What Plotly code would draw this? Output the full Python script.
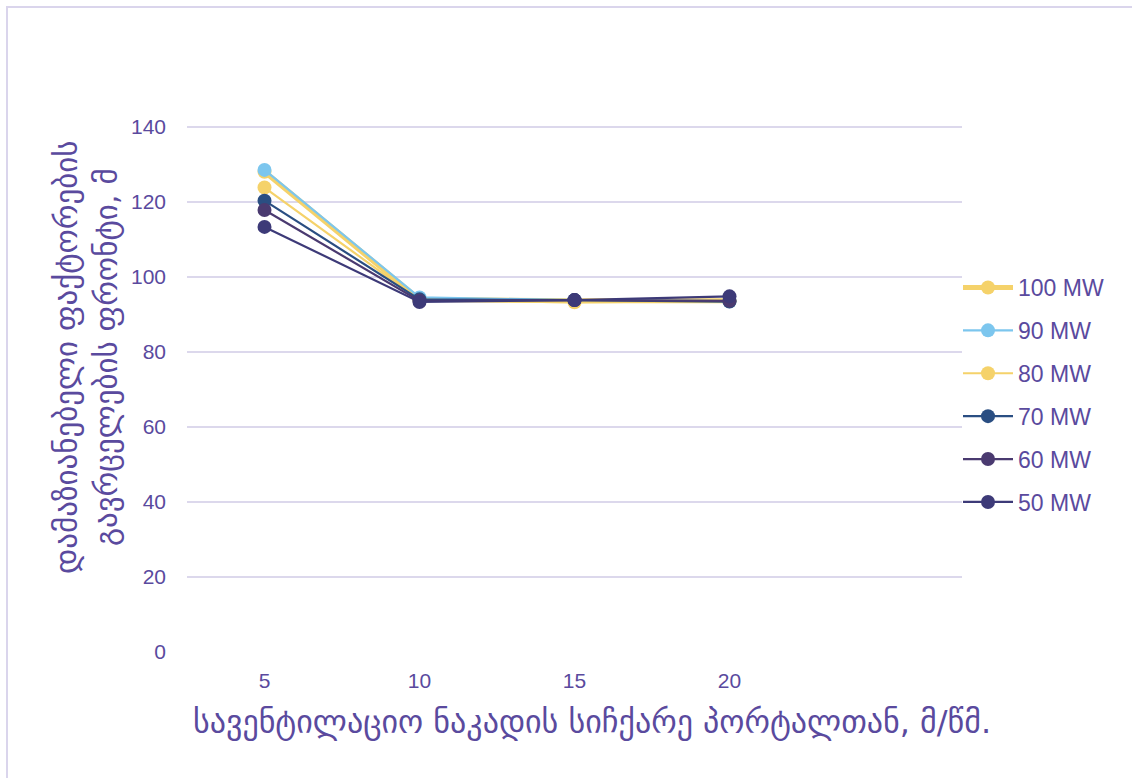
import plotly.graph_objects as go

# Ventilation flow speed at the portal, m/s
speeds = [5, 10, 15, 20]
tick_labels = ["5", "10", "15", "20"]

# Front of hazardous-factor spread, m, per fire power
series_names = ["100 MW", "90 MW", "80 MW", "70 MW", "60 MW", "50 MW"]
mw100 = [128.0, 94.0, 93.6, 93.6]
mw90 = [128.5, 94.5, 93.8, 93.5]
mw80 = [123.8, 93.8, 93.2, 93.6]
mw70 = [120.3, 94.0, 93.8, 93.4]
mw60 = [117.8, 93.6, 93.8, 93.6]
mw50 = [113.3, 93.3, 93.8, 94.8]

series_values = [mw100, mw90, mw80, mw70, mw60, mw50]
colors = ["#F5D26A", "#7CC6EE", "#F5D26A", "#2A4E82", "#4A3A70", "#3D3A78"]
widths = [5, 2.2, 2.2, 2.2, 2.2, 2.2]

x_title = "სავენტილაციო ნაკადის სიჩქარე პორტალთან, მ/წმ."
y_title = "დამაზიანებელი ფაქტორების<br>გავრცელების ფრონტი, მ"

text_color = "#5A4A9E"
grid_color = "#DCD8EC"
font_family = "Arial, Liberation Sans, DejaVu Sans, sans-serif"

fig = go.Figure()
for name, vals, col, w in zip(series_names, series_values, colors, widths):
    fig.add_trace(go.Scatter(
        x=speeds, y=vals, name=name, mode="lines+markers",
        legendgroup=name,
        line=dict(color=col, width=w),
        marker=dict(color=col, size=14),
    ))

# plot-area geometry in pixels, used to place the frame and titles
L, R, T, B = 187, 170, 123, 126
W, H = 1132, 778
pw, ph = W - L - R, H - T - B
def px_x(p):
    return (p - L) / pw
def px_y(p):
    return (H - B - p) / ph

# thin frame around the whole chart
fig.add_shape(type="rect", xref="paper", yref="paper",
              x0=px_x(7), x1=px_x(1145), y0=px_y(795), y1=px_y(7),
              line=dict(color="#DAD5EC", width=2), fillcolor="rgba(0,0,0,0)",
              layer="below")

# axis titles
fig.add_annotation(text=x_title, xref="paper", yref="paper",
                   x=px_x(592), y=px_y(722), xanchor="center", yanchor="middle",
                   showarrow=False,
                   font=dict(size=32, color=text_color, family="DejaVu Sans"))
fig.add_annotation(text=y_title, xref="paper", yref="paper",
                   x=px_x(86), y=px_y(357), xanchor="center", yanchor="middle",
                   textangle=-90, showarrow=False,
                   font=dict(size=31, color=text_color, family="DejaVu Sans"))

fig.update_layout(
    width=W, height=H,
    margin=dict(l=L, r=R, t=T, b=B),
    paper_bgcolor="white", plot_bgcolor="white",
    font=dict(family=font_family, color=text_color, size=21),
    showlegend=True,
    legend=dict(
        x=px_x(958), y=px_y(266), xanchor="left", yanchor="top",
        font=dict(size=23, color=text_color),
        itemwidth=50, tracegroupgap=10,
        bgcolor="rgba(0,0,0,0)",
    ),
    xaxis=dict(
        range=[2.5, 27.5], tickvals=speeds, ticktext=tick_labels,
        showgrid=False, zeroline=False, showline=False, ticks="",
        tickfont=dict(size=21, color=text_color),
        ticklabelstandoff=14,
    ),
    yaxis=dict(
        range=[0, 141], tickvals=[0, 20, 40, 60, 80, 100, 120, 140],
        showgrid=True, gridcolor=grid_color, gridwidth=2,
        zeroline=False, showline=False, ticks="",
        tickfont=dict(size=21, color=text_color),
        ticklabelstandoff=20,
    ),
)

fig.write_html("out.html")
